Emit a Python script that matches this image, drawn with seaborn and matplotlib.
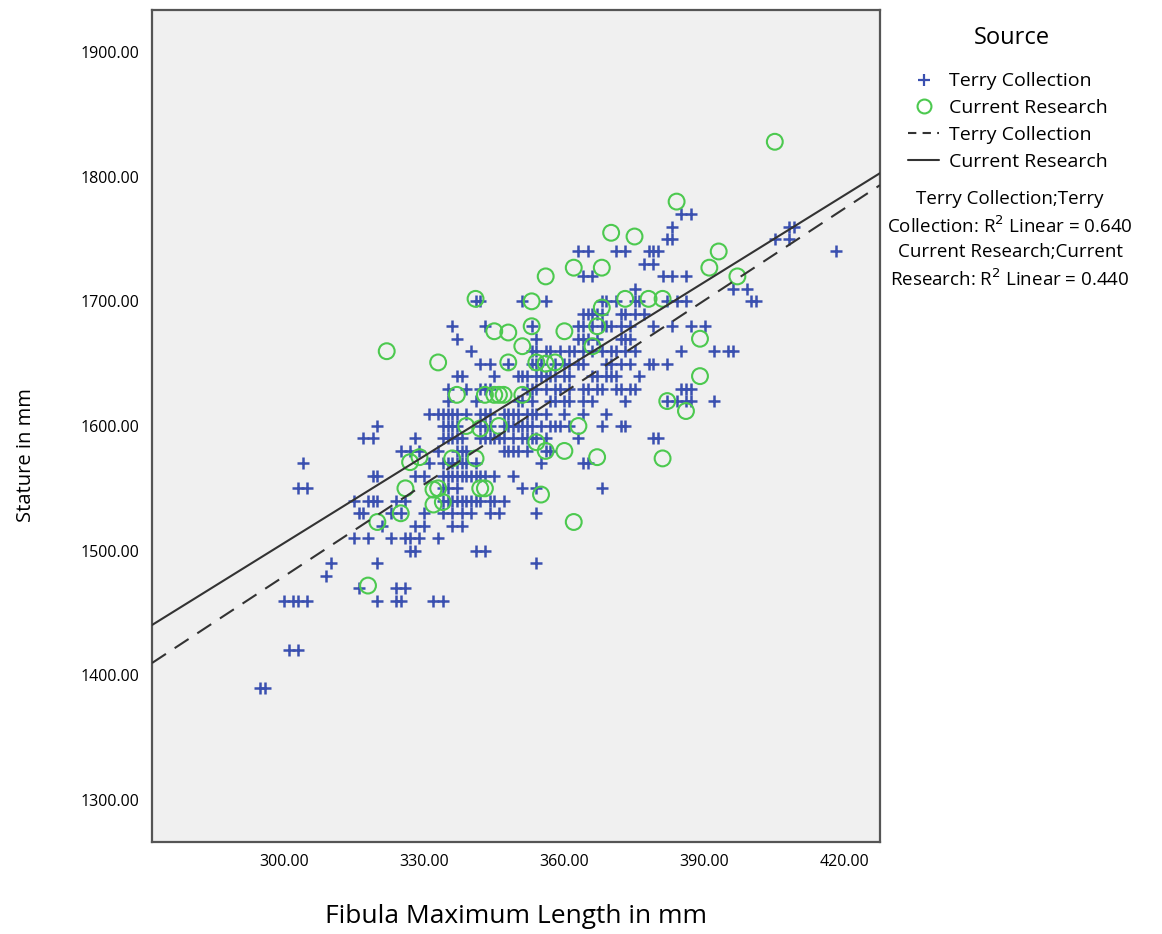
import numpy as np
import pandas as pd
import matplotlib
matplotlib.use("Agg")
import matplotlib.pyplot as plt
import seaborn as sns
from matplotlib.lines import Line2D

# Terry Collection: stature levels (mm) and the fibula lengths (mm) at each level
terry_stature = [1770, 1760, 1750, 1740, 1730, 1720, 1710, 1700, 1690, 1680,
                 1670, 1660, 1650, 1640, 1630, 1620, 1610, 1600, 1590, 1580,
                 1570, 1560, 1550, 1540, 1530, 1520, 1510, 1500, 1490, 1480,
                 1470, 1460, 1420, 1390]
terry_length = [
    [385, 387],
    [383, 408, 409],
    [382, 383, 405, 408],
    [363, 365, 371, 373, 378, 379, 380, 418],
    [377, 379],
    [364, 366, 381, 383, 386],
    [375, 396, 399],
    [341, 342, 351, 356, 368, 369, 371, 375, 376, 382, 384, 386, 400, 401],
    [364, 365, 366, 367, 368, 372, 373, 375, 377],
    [336, 343, 353, 363, 364, 366, 368, 369, 370, 372, 374, 379, 383, 387, 390],
    [337, 354, 363, 364, 365, 367, 372, 373, 374],
    [340, 353, 354, 356, 357, 359, 361, 362, 364, 366, 368, 370, 371, 373, 375,
     385, 392, 395, 396],
    [342, 344, 348, 353, 354, 355, 358, 360, 361, 363, 364, 369, 370, 372, 374,
     378, 379, 382],
    [337, 338, 345, 350, 351, 352, 354, 355, 356, 357, 358, 360, 361, 366, 367,
     369, 370, 371, 376],
    [335, 339, 342, 343, 344, 352, 353, 354, 356, 358, 359, 361, 364, 365, 367,
     368, 371, 372, 374, 375, 385, 386, 387],
    [335, 341, 350, 351, 353, 357, 358, 360, 361, 364, 366, 373, 382, 384, 386,
     387, 392],
    [331, 333, 334, 335, 336, 337, 339, 342, 343, 344, 347, 348, 349, 350, 352,
     353, 354, 356, 360, 364, 369],
    [320, 334, 335, 336, 337, 342, 343, 344, 347, 348, 349, 350, 351, 352, 353,
     355, 357, 358, 359, 361, 368, 372, 373],
    [317, 319, 328, 334, 335, 336, 337, 338, 342, 343, 344, 345, 346, 347, 349,
     351, 352, 353, 354, 356, 363, 379, 380],
    [325, 327, 329, 333, 337, 338, 339, 347, 348, 349, 350, 352, 356, 357],
    [304, 331, 334, 335, 336, 337, 338, 339, 341, 355, 364, 365],
    [319, 320, 328, 330, 334, 335, 336, 337, 338, 339, 340, 341, 342, 343, 345, 349],
    [303, 305, 334, 335, 337, 351, 354, 368],
    [315, 318, 319, 320, 324, 326, 334, 335, 336, 337, 338, 339, 340, 341, 342,
     344, 345, 347],
    [316, 317, 323, 325, 330, 334, 336, 338, 340, 344, 346, 354],
    [321, 328, 330, 336, 338],
    [315, 318, 323, 326, 327, 329, 333],
    [327, 328, 341, 343],
    [310, 320, 354],
    [309],
    [316, 324, 326],
    [300, 302, 303, 305, 320, 324, 325, 332, 334],
    [301, 303],
    [295, 296],
]

# Current Research
current_length = [405, 384, 370, 375, 393, 362, 368, 391, 356, 397, 341, 353, 373,
                  378, 381, 368, 345, 348, 353, 360, 367, 322, 351, 366, 333, 348,
                  354, 356, 358, 389, 389, 337, 343, 345, 346, 347, 351, 382, 386,
                  339, 342, 346, 363, 354, 356, 360, 367, 381, 336, 341, 327, 329,
                  326, 332, 333, 334, 332, 342, 343, 355, 325, 320, 362, 318]
current_stature = [1828, 1780, 1755, 1752, 1740, 1727, 1727, 1727, 1720, 1720, 1702,
                   1700, 1702, 1702, 1702, 1695, 1676, 1675, 1680, 1676, 1680, 1660,
                   1664, 1664, 1651, 1651, 1651, 1650, 1651, 1670, 1640, 1625, 1625,
                   1625, 1625, 1625, 1625, 1620, 1612, 1600, 1598, 1600, 1600, 1587,
                   1580, 1580, 1575, 1574, 1574, 1574, 1571, 1575, 1550, 1549, 1550,
                   1539, 1537, 1550, 1550, 1545, 1530, 1523, 1523, 1472]

# fitted linear lines: stature = intercept + slope * length
fit_source = ["Terry Collection", "Current Research"]
fit_intercept = [740.7, 807.6]
fit_slope = [2.462, 2.328]
fit_r2 = ["0.640", "0.440"]

x_ticks = [300, 330, 360, 390, 420]
y_ticks = [1300, 1400, 1500, 1600, 1700, 1800, 1900]

terry = pd.DataFrame({
    "length": [x for row in terry_length for x in row],
    "stature": [s for s, row in zip(terry_stature, terry_length) for _ in row],
})
current = pd.DataFrame({"length": current_length, "stature": current_stature})

sns.set_style("white")
plt.rcParams["font.family"] = ["Open Sans", "DejaVu Sans"]
plt.rcParams["text.color"] = "black"
plt.rcParams["axes.labelcolor"] = "black"
plt.rcParams["xtick.color"] = "black"
plt.rcParams["ytick.color"] = "black"

blue = "#3a50b0"
green = "#4cc94f"

fig = plt.figure(figsize=(11.62, 9.34), dpi=100)
ax = fig.add_axes([152 / 1162, 1 - 842 / 934, 728 / 1162, 832 / 934])
ax.set_facecolor("#f0f0f0")

sns.scatterplot(data=terry, x="length", y="stature", marker="+", color=blue,
                s=65, linewidth=1.8, ax=ax, zorder=3)
sns.scatterplot(data=current, x="length", y="stature", marker="o", s=130,
                facecolors="none", edgecolors=green, linewidth=1.5, ax=ax, zorder=4)

xlim = (271.8, 427.5)
xs = np.array(xlim)
styles = ["--", "-"]
dashes = [(8, 5), None]
for i in range(2):
    ys = fit_intercept[i] + fit_slope[i] * xs
    ln, = ax.plot(xs, ys, color="#333333", linewidth=1.5, linestyle=styles[i], zorder=5)
    if dashes[i]:
        ln.set_dashes(dashes[i])

ax.set_xlim(*xlim)
ax.set_ylim(1266.3, 1933.7)
ax.set_xticks(x_ticks)
ax.set_xticklabels([f"{v:.2f}" for v in x_ticks])
ax.set_yticks(y_ticks)
ax.set_yticklabels([f"{v:.2f}" for v in y_ticks])
ax.tick_params(axis="both", direction="out", length=5, width=1, color="#333333",
               labelsize=11.5, pad=4)
for sp in ax.spines.values():
    sp.set_color("#555555")
    sp.set_linewidth(1.6)

ax.set_xlabel("Fibula Maximum Length in mm", fontsize=19, labelpad=24)
ax.set_ylabel("Stature in mm", fontsize=14.5)
ax.yaxis.set_label_coords(-0.159, 0.465)

handles = [
    Line2D([], [], marker="+", linestyle="none", color=blue, markersize=8, markeredgewidth=1.6),
    Line2D([], [], marker="o", linestyle="none", markerfacecolor="none",
           markeredgecolor=green, markersize=10, markeredgewidth=1.5),
    Line2D([], [], color="#333333", linestyle="--", dashes=(4, 3), linewidth=1.5),
    Line2D([], [], color="#333333", linestyle="-", linewidth=1.5),
]
labels = ["Terry Collection", "Current Research"] + fit_source
fig.text(1012 / 1162, 1 - 38 / 934, "Source", ha="center", va="center", fontsize=17)
leg = fig.legend(handles, labels, loc="upper center",
                 bbox_to_anchor=(1008 / 1162, 1 - 55 / 934), frameon=False,
                 fontsize=14, handlelength=1.6,
                 handletextpad=0.5, labelspacing=0.45)

r2_text = (f"{fit_source[0]};Terry\nCollection: R$^2$ Linear = {fit_r2[0]}\n"
           f"{fit_source[1]};Current\nResearch: R$^2$ Linear = {fit_r2[1]}")
fig.text(1010 / 1162, 1 - 190 / 934, r2_text, ha="center", va="top",
         fontsize=13.5, linespacing=1.42)

fig.savefig("out.png", dpi=100, facecolor="white")
